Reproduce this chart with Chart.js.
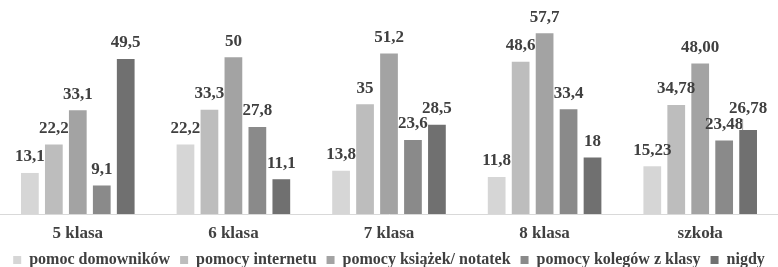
<!DOCTYPE html>
<html>
<head>
<meta charset="utf-8">
<script src="https://cdn.jsdelivr.net/npm/chart.js@4.4.1/dist/chart.umd.min.js"></script>
<style>
  html, body { margin: 0; padding: 0; background: #fff; }
  #wrap { width: 778px; height: 267px; }
</style>
</head>
<body>
<div id="wrap"><canvas id="chart" width="778" height="267"></canvas></div>
<script>
// categories and series
const categories = ['5 klasa', '6 klasa', '7 klasa', '8 klasa', 'szkoła'];
const seriesNames = ['pomoc domowników', 'pomocy internetu', 'pomocy książek/ notatek', 'pomocy kolegów z klasy', 'nigdy'];
const domownikow = [13.1, 22.2, 13.8, 11.8, 15.23];
const internetu = [22.2, 33.3, 35, 48.6, 34.78];
const ksiazek = [33.1, 50, 51.2, 57.7, 48.00];
const kolegow = [9.1, 27.8, 23.6, 33.4, 23.48];
const nigdy = [49.5, 11.1, 28.5, 18, 26.78];

const colors = ['#d6d6d6', '#bdbdbd', '#a3a3a3', '#8a8a8a', '#707070'];
const textColor = '#404040';
const fontFamily = '"Liberation Serif"';

Chart.defaults.font.family = fontFamily;

function fmt(v, idx) {
    // last category is printed with two decimals
    if (idx === categories.length - 1) return v.toFixed(2).replace('.', ',');
    return String(v).replace('.', ',');
}

// draw value labels above each bar
const valueLabels = {
    id: 'valueLabels',
    afterDatasetsDraw(chart) {
        const ctx = chart.ctx;
        ctx.save();
        ctx.font = 'bold 17px ' + fontFamily;
        ctx.fillStyle = textColor;
        ctx.textAlign = 'center';
        ctx.textBaseline = 'middle';
        const last = categories.length - 1;
        chart.data.datasets.forEach((ds, i) => {
            const meta = chart.getDatasetMeta(i);
            meta.data.forEach((bar, j) => {
                let y = bar.y - 16;
                // the last "nigdy" label sits a bit higher, with a small leader line
                if (i === 4 && j === last) {
                    y = bar.y - 21;
                    ctx.strokeStyle = '#a6a6a6';
                    ctx.lineWidth = 1;
                    ctx.beginPath();
                    ctx.moveTo(bar.x - 5.5, y + 10);
                    ctx.lineTo(bar.x - 5.5, bar.y);
                    ctx.stroke();
                }
                ctx.fillText(fmt(ds.data[j], j), bar.x, y);
            });
        });
        ctx.restore();
    }
};

const allSeries = [domownikow, internetu, ksiazek, kolegow, nigdy];

new Chart(document.getElementById('chart'), {
    type: 'bar',
    data: {
        labels: categories,
        datasets: allSeries.map((d, i) => ({
            label: seriesNames[i],
            data: d,
            backgroundColor: colors[i],
            categoryPercentage: 0.77,
            barPercentage: 0.74
        }))
    },
    options: {
        responsive: false,
        animation: false,
        layout: { padding: { top: 26, left: 0, right: 0, bottom: -11 } },
        plugins: {
            tooltip: { enabled: false },
            legend: {
                position: 'bottom',
                labels: {
                    color: textColor,
                    font: { family: fontFamily, size: 16, weight: 'bold', lineHeight: 1 },
                    boxWidth: 8,
                    boxHeight: 8,
                    padding: 10
                }
            }
        },
        scales: {
            x: {
                grid: { display: false },
                border: { color: '#d9d9d9', width: 1 },
                ticks: {
                    color: textColor,
                    font: { family: fontFamily, size: 17, weight: 'bold' },
                    padding: 1
                },
                afterFit: (scale) => { scale.height = 28; }
            },
            y: {
                display: false,
                min: 0,
                max: 60
            }
        }
    },
    plugins: [valueLabels]
});
</script>
</body>
</html>
